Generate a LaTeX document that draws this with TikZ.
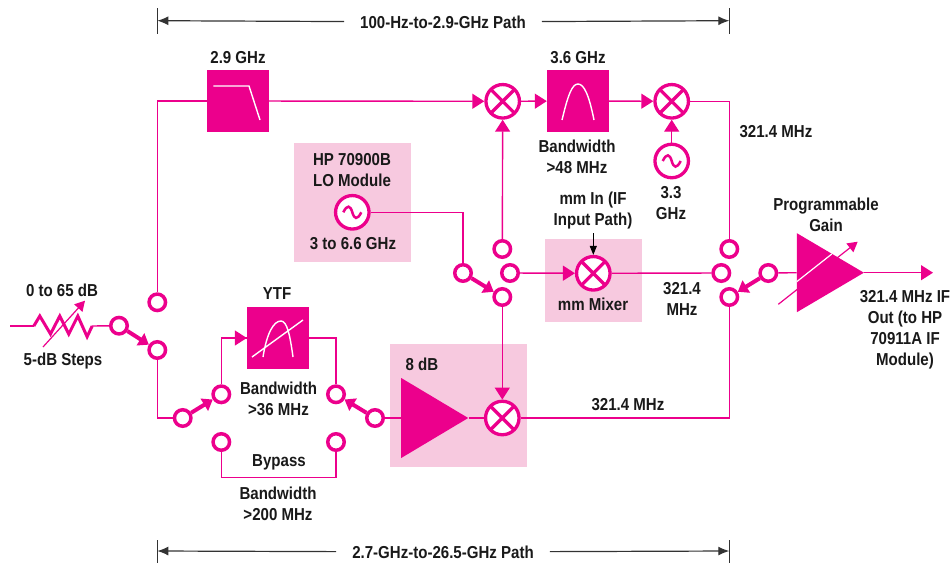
\documentclass[tikz,border=0pt]{standalone}
\usepackage{fontspec}
\setmainfont[FakeStretch=0.87]{Liberation Sans}
\usetikzlibrary{arrows.meta,shapes.geometric}
\definecolor{hpmag}{HTML}{EC008C}
\definecolor{hppink}{HTML}{F7C9DF}

\begin{document}
\begin{tikzpicture}[x=1pt,y=-1pt,
    txt/.style={font=\fontsize{17.3}{21}\selectfont\bfseries, align=center, inner sep=0pt, text=black!90},
    dimtxt/.style={txt, inner xsep=16pt, inner ysep=0pt},
    dimline/.style={draw=black!80, line width=1.2pt},
    dimarrow/.style={dimline, -{Latex[length=11pt,width=9pt]}},
    backbox/.style={fill=hppink, inner sep=0pt},
    terminal/.style={circle, draw=hpmag, line width=3.5pt, fill=white, minimum size=16.5pt, inner sep=0pt},
    filterbox/.style={rectangle, fill=hpmag, minimum size=62pt, inner sep=0pt},
    whitecurve/.style={draw=white, line width=1.4pt},
    mixer/.style={circle, draw=hpmag, line width=3.3pt, fill=white, minimum size=33.5pt, inner sep=0pt,
        path picture={\draw[hpmag, line width=3.3pt]
            (path picture bounding box.north west) -- (path picture bounding box.south east)
            (path picture bounding box.north east) -- (path picture bounding box.south west);}},
    osc/.style={circle, draw=hpmag, line width=3.3pt, fill=white, minimum size=33.5pt, inner sep=0pt,
        path picture={\draw[hpmag, line width=2.5pt, shift={(path picture bounding box.center)}]
            (-9,0) .. controls (-5,-8) and (-2,-7) .. (0,0) .. controls (2,7) and (5,8) .. (9,0);}},
    amp/.style={isosceles triangle, isosceles triangle stretches, fill=hpmag, inner sep=0pt, anchor=lower side},
    sig/.style={draw=hpmag, line width=1.4pt},
    sigarrow/.style={sig, -{Triangle[length=12pt,width=15pt]}},
    switcharm/.style={draw=hpmag, line width=4pt, -{Triangle[length=10pt,width=14pt]}},
    varline/.style={draw=hpmag, line width=1.2pt, -{Triangle[length=10pt,width=11pt]}}]

    \useasboundingbox (0,0) rectangle (950,562);

    \node[backbox, minimum width=117pt, minimum height=119pt] (lobox) at (352.5,202.5) {};
    \node[backbox, minimum width=97pt, minimum height=83pt] (mmbox) at (593.5,280.5) {};
    \node[backbox, minimum width=137pt, minimum height=123pt] (gainbox) at (458.5,405.5) {};

    \foreach \name/\x/\y in {upin/157.3/302.3, attout/119/325.7, lowin/157.3/350,
        ytfsw/182.7/418, ytfa/221.3/394.3, ytfb/336/394.3, ampsw/375/418,
        bypa/221.3/442, bypb/336/442, lotop/502.3/249, losw/463/273, lomm/510/273,
        lolow/502.3/297, outtop/729.3/249, outmm/721.3/273, outlow/729.3/297, outsw/768.3/273}
        \node[terminal] (\name) at (\x,\y) {};

    \node[filterbox, path picture={\draw[whitecurve, shift={(path picture bounding box.center)}]
        (-24.7,-15) -- (11,-15) -- (22,19);}] (lpf) at (238,101) {};
    \node[filterbox, path picture={\draw[whitecurve, shift={(path picture bounding box.center)}]
        (-16,19) .. controls (-10,-6) and (-6,-17) .. (0,-17) .. controls (6,-17) and (11,-6) .. (16,19);}] (bpf) at (578,101) {};
    \node[filterbox, path picture={\draw[whitecurve, shift={(path picture bounding box.center)}]
        (-15,19) .. controls (-11,-6) and (-4,-17) .. (3,-17) .. controls (9,-17) and (12,-3) .. (15,19)
        (-26,19) -- (25,-18);}] (ytf) at (278,338) {};

    \node[mixer] (mixa) at (502.7,101.3) {};
    \node[mixer] (mixb) at (671.7,101.3) {};
    \node[mixer] (mixmm) at (593.3,273.3) {};
    \node[mixer] (mixlow) at (502.3,418) {};
    \node[osc] (oscb) at (671.7,161) {};
    \node[osc] (osclo) at (352.3,212.3) {};

    \draw[varline] (778.3,304.3) -- (857.7,241.7);

    \node[amp, minimum height=67pt, minimum width=80pt] (ampa) at (401,418) {};
    \node[amp, minimum height=67pt, minimum width=79pt, path picture={\draw[draw=white, line width=1.2pt,
        shift={(path picture bounding box.center)}] (-52,32.1) -- (27.3,-30.5);}] (ampb) at (796.7,272.7) {};

    \node[minimum width=58pt, minimum height=26pt, inner sep=0pt] (atten) at (63,326) {};

    \coordinate (attin) at (10,326);
    \coordinate (out) at (933,272.7);
    \coordinate (mmin) at (593.3,233);
    \coordinate (toptl) at (157.3,8);
    \coordinate (topbl) at (157.3,33.5);
    \coordinate (toptr) at (729.3,8);
    \coordinate (topbr) at (729.3,33.5);
    \coordinate (bottl) at (157.3,540);
    \coordinate (botbl) at (157.3,563);
    \coordinate (bottr) at (729.3,540);
    \coordinate (botbr) at (729.3,563);

    \draw[sig] (attin) -- (atten.west);
    \draw[sig] (atten.east) -- (attout);
    \draw[draw=hpmag, line width=3pt, miter limit=4] (atten.west)
        -- ++(6,-10) -- ++(10.7,18) -- ++(9.3,-18) -- ++(9,18) -- ++(9,-18) -- ++(9.3,20.7) -- (atten.east);
    \draw[varline] (43,347) -- (85,300.7);

    \draw[sig] (lpf) -| (upin);
    \draw[sigarrow] (lpf) -- (mixa);
    \draw[sigarrow] (mixa) -- (bpf);
    \draw[sigarrow] (bpf) -- (mixb);
    \draw[sigarrow] (oscb) -- (mixb);
    \draw[sigarrow] (lotop) -- (mixa);
    \draw[sig] (mixb) -| (outtop);
    \draw[sig] (osclo) -| (losw);
    \draw[sigarrow] (lomm) -- (mixmm);
    \draw[sig] (mixmm) -- (outmm);
    \draw[sigarrow] (lolow) -- (mixlow);
    \draw[sig] (mixlow) -| (outlow);
    \draw[sig] (lowin) |- (ytfsw);
    \draw[sig] (ytfa) |- (ytf.west);
    \draw[sigarrow] (ytfa |- ytf.west) -- (ytf.west);
    \draw[sig] (ytf.east) -| (ytfb);
    \draw[sig] (bypa) |- (279,477.3) -| (bypb);
    \draw[sig] (ampsw) -- (ampa.lower side);
    \draw[sig] (ampa.apex) -- (mixlow);
    \draw[sig] (outsw) -- (ampb.lower side);
    \draw[sigarrow] (ampb.apex) -- (out);
    \draw[-{Triangle[length=9pt,width=7pt]}, black, line width=1pt] (mmin) -- (mixmm);

    \draw[switcharm] (attout) -- (lowin);
    \draw[switcharm] (ytfsw) -- (ytfa);
    \draw[switcharm] (ampsw) -- (ytfb);
    \draw[switcharm] (losw) -- (lolow);
    \draw[switcharm] (outsw) -- (outlow);

    \node[dimtxt] (toplabel) at (443,22) {100-Hz-to-2.9-GHz Path};
    \node[dimtxt] (botlabel) at (443,552) {2.7-GHz-to-26.5-GHz Path};
    \draw[dimline] (toptl) -- (topbl);
    \draw[dimline] (toptr) -- (topbr);
    \draw[dimline] (bottl) -- (botbl);
    \draw[dimline] (bottr) -- (botbr);
    \draw[dimarrow] (toplabel) -- (157.3,20.7);
    \draw[dimarrow] (toplabel) -- (729.3,20.7);
    \draw[dimarrow] (botlabel) -- (157.3,551);
    \draw[dimarrow] (botlabel) -- (729.3,551);

    \node[txt] (lpflabel) at (238,58) {2.9 GHz};
    \node[txt] (bpflabel) at (578,58) {3.6 GHz};
    \node[txt] (bpfband) at (577,157) {Bandwidth\\>48 MHz};
    \node[txt] (osclabel) at (671,203) {3.3\\GHz};
    \node[txt] (ifa) at (776,132) {321.4 MHz};
    \node[txt] (lolabel) at (352,170) {HP 70900B\\LO Module};
    \node[txt] (lofreq) at (353,244) {3 to 6.6 GHz};
    \node[txt] (mminlabel) at (593,211) {mm In (IF\\Input Path)};
    \node[txt] (mmlabel) at (593,304) {mm Mixer};
    \node[txt] (ifb) at (682,298.5) {321.4\\MHz};
    \node[txt] (gainlabel) at (826,215) {Programmable\\Gain};
    \node[txt] (outlabel) at (905,329.5) {321.4 MHz IF\\Out (to HP\\70911A IF\\Module)};
    \node[txt] (attlabel) at (62,290) {0 to 65 dB};
    \node[txt] (steplabel) at (63,361) {5-dB Steps};
    \node[txt] (ytflabel) at (277,294) {YTF};
    \node[txt] (ytfband) at (278.5,398.5) {Bandwidth\\>36 MHz};
    \node[txt] (byplabel) at (279,462) {Bypass};
    \node[txt] (bypband) at (278,503.5) {Bandwidth\\>200 MHz};
    \node[txt] (gainval) at (422,364) {8 dB};
    \node[txt] (ifc) at (628,405) {321.4 MHz};
\end{tikzpicture}
\end{document}
